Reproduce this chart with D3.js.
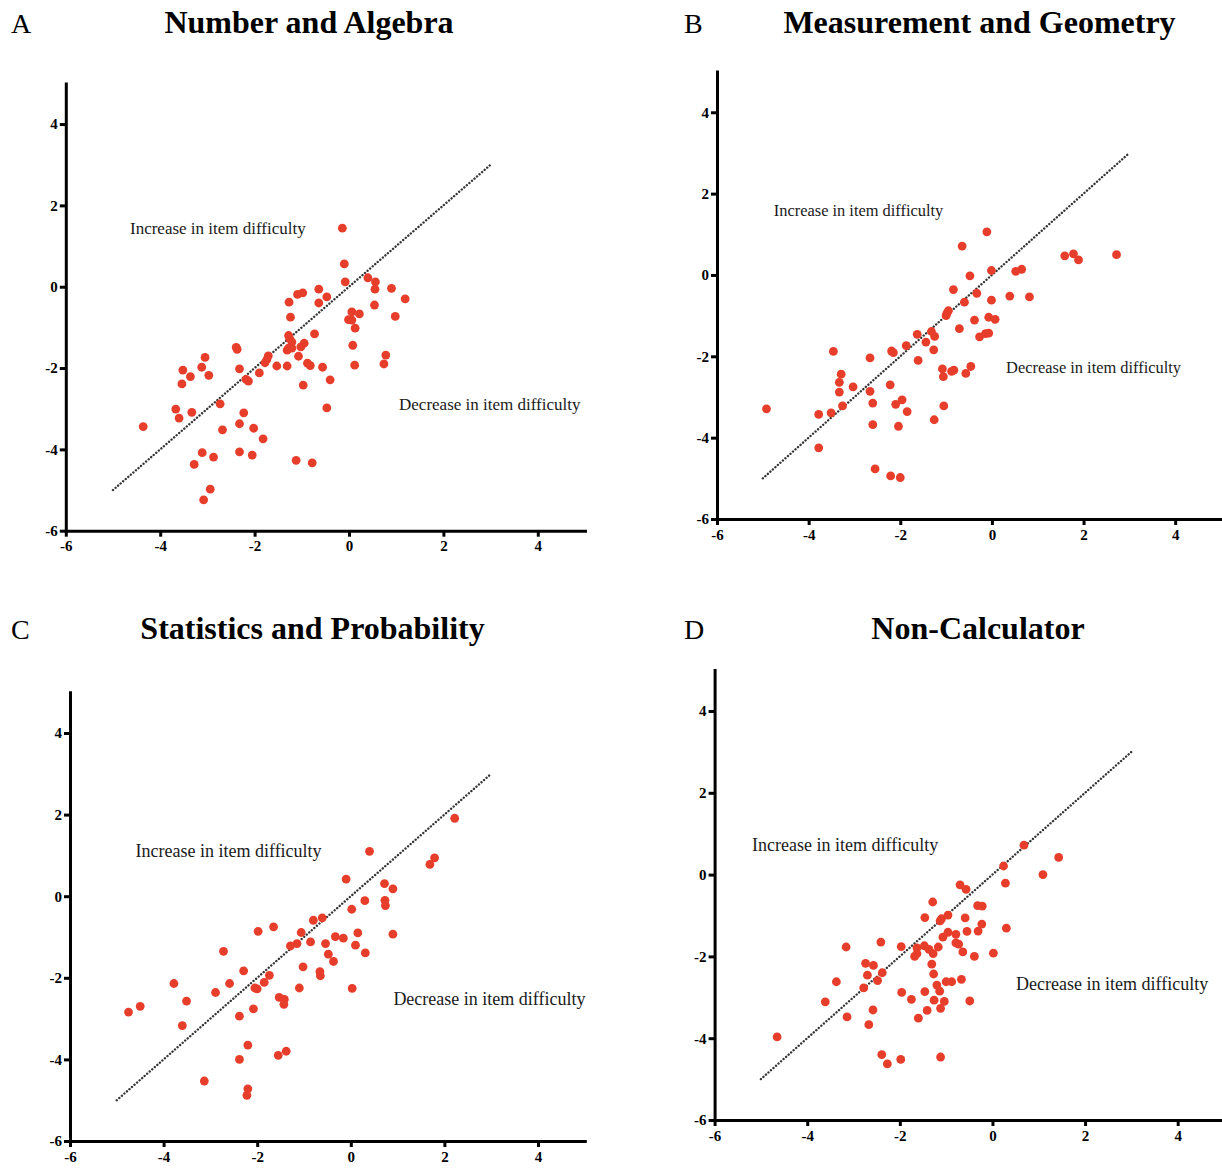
<!DOCTYPE html>
<html>
<head>
<meta charset="utf-8">
<script src="https://cdn.jsdelivr.net/npm/d3@7"></script>
<style>
  body { margin: 0; background: #fff; }
  svg text { font-family: "Liberation Serif", "Times New Roman", serif; }
</style>
</head>
<body>
<svg id="chart" width="1222" height="1168"></svg>
<script>
// ---- data -------------------------------------------------------------
const panelTags = ["A", "B", "C", "D"];
const panelTitles = ["Number and Algebra", "Measurement and Geometry",
                     "Statistics and Probability", "Non-Calculator"];
const tickValues = [-6, -4, -2, 0, 2, 4];
const axisDomain = [-6, 5];
const increaseLabel = "Increase in item difficulty";
const decreaseLabel = "Decrease in item difficulty";
// identity reference line (no change in difficulty)
const referenceLine = [[-5, -5], [3, 3]];

// item difficulty pairs [x, y]
const numberAlgebra = [
  [-4.36,-3.44],[-3.52,-2.05],[-3.05,-1.74],[-3.12,-1.98],[-3.36,-2.21],[-2.97,-2.18],
  [-3.54,-2.39],[-3.67,-3.01],[-3.60,-3.23],[-3.33,-3.09],[-2.73,-2.88],[-2.68,-3.52],
  [-2.23,-3.10],[-2.32,-3.37],[-2.02,-3.48],[-1.82,-3.74],[-3.11,-4.08],[-2.87,-4.19],
  [-3.28,-4.37],[-2.32,-4.06],[-2.05,-4.14],[-2.94,-4.98],[-3.08,-5.24],[-2.39,-1.49],
  [-2.37,-1.54],[-2.32,-2.02],[-2.18,-2.28],[-2.13,-2.32],[-1.90,-2.12],[-1.78,-1.87],
  [-1.74,-1.79],[-1.71,-1.70],[-1.53,-1.95],[-1.31,-1.95],[-0.14,1.44],[-0.10,0.56],
  [-0.08,0.12],[0.40,0.22],[0.56,0.12],[0.55,-0.06],[0.90,-0.04],[1.19,-0.30],
  [0.54,-0.45],[0.98,-0.73],[0.06,-0.62],[0.22,-0.67],[-0.01,-0.81],[0.06,-0.82],
  [0.13,-1.02],[0.08,-1.44],[0.12,-1.93],[0.78,-1.68],[0.74,-1.90],[-0.64,-0.06],
  [-0.47,-0.25],[-1.09,-0.19],[-0.98,-0.15],[-1.27,-0.38],[-0.64,-0.40],[-1.24,-0.75],
  [-0.73,-1.16],[-1.28,-1.20],[-1.26,-1.27],[-1.21,-1.36],[-1.28,-1.51],[-1.21,-1.51],
  [-1.02,-1.48],[-0.95,-1.39],[-1.07,-1.71],[-0.88,-1.88],[-0.82,-1.94],[-0.56,-1.98],
  [-0.40,-2.29],[-0.97,-2.42],[-1.12,-4.27],[-0.78,-4.33],[-0.47,-2.98],[-1.31,-1.56]
];
const measurementGeometry = [
  [-4.92,-3.29],[-3.78,-3.43],[-3.51,-3.39],[-3.78,-4.25],[-3.46,-1.88],[-3.29,-2.44],
  [-3.33,-2.64],[-3.33,-2.88],[-3.26,-3.22],[-3.03,-2.75],[-2.66,-2.04],[-2.66,-2.86],
  [-2.60,-3.15],[-2.60,-3.68],[-2.55,-4.77],[-2.22,-2.70],[-2.19,-1.87],[-2.15,-1.91],
  [-2.10,-3.18],[-1.96,-3.07],[-1.85,-3.36],[-2.04,-3.72],[-2.21,-4.94],[-2.00,-4.98],
  [-1.87,-1.74],[-1.63,-1.46],[-1.61,-2.10],[-0.11,1.06],[-0.65,0.71],[1.59,0.47],
  [1.78,0.52],[1.89,0.37],[2.72,0.50],[-0.01,0.11],[0.52,0.09],[0.65,0.14],
  [-0.48,-0.02],[-0.84,-0.36],[-0.33,-0.45],[-0.01,-0.62],[0.39,-0.52],[0.82,-0.54],
  [-0.60,-0.67],[-0.95,-0.88],[-0.98,-0.94],[-1.00,-1.00],[-0.38,-1.11],[-0.07,-1.04],
  [0.07,-1.09],[-0.71,-1.32],[-0.27,-1.52],[-0.14,-1.44],[-0.07,-1.43],[-1.32,-1.39],
  [-1.25,-1.51],[-1.44,-1.65],[-1.27,-1.84],[-1.08,-2.31],[-1.06,-2.50],[-0.88,-2.37],
  [-0.83,-2.34],[-0.57,-2.42],[-0.46,-2.25],[-1.05,-3.22],[-1.26,-3.56]
];
const statisticsProbability = [
  [-4.75,-2.84],[-4.50,-2.70],[-3.78,-2.14],[-3.51,-2.57],[-2.72,-1.35],[-2.89,-2.36],
  [-2.59,-2.14],[-2.29,-1.83],[-2.38,-2.94],[-2.08,-2.76],[-2.05,-2.25],[-2.00,-2.27],
  [-1.85,-2.11],[-1.74,-1.94],[-1.98,-0.86],[-1.65,-0.75],[-1.53,-2.48],[-1.42,-2.53],
  [-1.43,-2.65],[-1.29,-1.22],[-1.15,-1.16],[-1.02,-1.73],[-1.10,-2.25],[-1.06,-0.89],
  [-0.86,-1.12],[-0.80,-0.59],[0.40,1.10],[-0.10,0.42],[1.79,0.94],[1.69,0.78],
  [0.72,0.31],[0.90,0.18],[0.30,-0.11],[0.73,-0.10],[0.74,-0.23],[0.02,-0.32],
  [-0.61,-0.53],[-0.33,-0.99],[-0.16,-1.03],[0.15,-0.90],[-0.54,-1.16],[0.10,-1.20],
  [0.90,-0.93],[-0.48,-1.42],[0.31,-1.39],[-0.37,-1.60],[-0.66,-1.85],[-0.65,-1.95],
  [2.22,1.91],[0.03,-2.26],[-3.60,-3.17],[-3.13,-4.53],[-2.38,-4.00],[-2.20,-3.65],
  [-2.20,-4.72],[-2.22,-4.88],[-1.55,-3.90],[-1.38,-3.80]
];
const nonCalculator = [
  [-4.65,-3.97],[-3.61,-3.11],[-3.37,-2.62],[-3.16,-1.77],[-3.14,-3.48],[-2.74,-2.17],
  [-2.57,-2.22],[-2.70,-2.46],[-2.78,-2.77],[-2.48,-2.59],[-2.38,-2.40],[-2.58,-3.31],
  [-2.67,-3.67],[-2.41,-1.65],[-2.39,-4.40],[-2.27,-4.63],[0.68,0.72],[1.43,0.42],
  [1.09,0.00],[0.24,0.21],[0.28,-0.21],[-0.70,-0.25],[-0.57,-0.36],[-1.29,-0.67],
  [-0.32,-0.76],[-0.22,-0.77],[-1.46,-1.05],[-1.13,-1.13],[-1.10,-1.08],[-0.96,-0.99],
  [-0.59,-1.06],[-0.23,-1.21],[0.30,-1.31],[-0.55,-1.39],[-0.31,-1.38],[-0.96,-1.41],
  [-1.07,-1.53],[-0.79,-1.46],[-0.79,-1.67],[-0.73,-1.70],[-1.17,-1.77],[-1.97,-1.76],
  [-1.63,-1.79],[-1.47,-1.74],[-1.37,-1.83],[-1.63,-1.93],[-1.68,-2.00],[-1.28,-1.93],
  [-0.64,-1.89],[-0.39,-2.00],[0.02,-1.92],[-1.31,-2.19],[-1.27,-2.43],[-1.00,-2.62],
  [-0.88,-2.62],[-0.67,-2.56],[-1.20,-2.70],[-1.14,-2.85],[-1.46,-2.86],[-1.96,-2.88],
  [-1.75,-3.05],[-1.26,-3.07],[-1.04,-3.10],[-0.49,-3.09],[-1.41,-3.32],[-1.12,-3.27],
  [-1.60,-3.51],[-1.98,-4.52],[-1.12,-4.46]
];
const panelSeries = [numberAlgebra, measurementGeometry, statisticsProbability, nonCalculator];

// ---- layout -----------------------------------------------------------
// pixel ranges of each plot for the domain [-6, 5]; label anchors in data units
const layout = [
  { xr: [65.8, 585], yr: [530.7, 83.4], tag: [11, 33], title: [309, 33],
    inc: [-4.64, 1.30], dec: [1.06, -3.03], noteSize: 17 },
  { xr: [717, 1221], yr: [519, 71.6], tag: [684, 33], title: [979.5, 33],
    inc: [-4.76, 1.45], dec: [0.31, -2.41], noteSize: 16.4 },
  { xr: [70, 584.8], yr: [1141, 692.2], tag: [11, 639], title: [312.5, 639],
    inc: [-4.60, 0.96], dec: [0.91, -2.67], noteSize: 18 },
  { xr: [714.6, 1224], yr: [1120, 670.1], tag: [684, 639], title: [978, 639],
    inc: [-5.19, 0.58], dec: [0.51, -2.82], noteSize: 18 }
];

const svg = d3.select("#chart");
const dotColor = "#e73e2c";

panelSeries.forEach((series, i) => {
  const L = layout[i];
  const x = d3.scaleLinear().domain(axisDomain).range(L.xr);
  const y = d3.scaleLinear().domain(axisDomain).range(L.yr);
  const g = svg.append("g");

  // panel letter and title
  g.append("text").attr("x", L.tag[0]).attr("y", L.tag[1])
    .attr("font-size", 28).attr("fill", "#000").text(panelTags[i]);
  g.append("text").attr("x", L.title[0]).attr("y", L.title[1])
    .attr("text-anchor", "middle").attr("font-size", 32).attr("font-weight", "bold")
    .attr("fill", "#000").text(panelTitles[i]);

  // reference line y = x
  g.append("line")
    .attr("x1", x(referenceLine[0][0])).attr("y1", y(referenceLine[0][1]))
    .attr("x2", x(referenceLine[1][0])).attr("y2", y(referenceLine[1][1]))
    .attr("stroke", "#333").attr("stroke-width", 2.4)
    .attr("stroke-linecap", "round").attr("stroke-dasharray", "0.01 3.35");

  // annotations
  g.append("text").attr("x", x(L.inc[0])).attr("y", y(L.inc[1]))
    .attr("font-size", L.noteSize).attr("fill", "#1a1a1a").text(increaseLabel);
  g.append("text").attr("x", x(L.dec[0])).attr("y", y(L.dec[1]))
    .attr("font-size", L.noteSize).attr("fill", "#1a1a1a").text(decreaseLabel);

  // points
  g.append("g").selectAll("circle").data(series).join("circle")
    .attr("cx", d => x(d[0])).attr("cy", d => y(d[1]))
    .attr("r", 4.4).attr("fill", dotColor);

  // axes
  const fmt = d => String(d);
  const xAxis = g.append("g").attr("transform", `translate(0,${y(-6)})`)
    .call(d3.axisBottom(x).tickValues(tickValues).tickFormat(fmt)
      .tickSize(6).tickSizeOuter(0).tickPadding(4));
  const yAxis = g.append("g").attr("transform", `translate(${x(-6)},0)`)
    .call(d3.axisLeft(y).tickValues(tickValues).tickFormat(fmt)
      .tickSize(6).tickSizeOuter(0).tickPadding(2));
  [xAxis, yAxis].forEach(ax => {
    ax.attr("font-family", null).attr("font-size", null);
    ax.select(".domain").attr("stroke", "#000").attr("stroke-width", 3)
      .attr("stroke-linecap", "square");
    ax.selectAll(".tick line").attr("stroke", "#000").attr("stroke-width", 3);
    ax.selectAll(".tick text").attr("fill", "#000")
      .style("font-family", "'Liberation Serif', serif")
      .style("font-size", "15px").style("font-weight", "bold");
  });
});
</script>
</body>
</html>
